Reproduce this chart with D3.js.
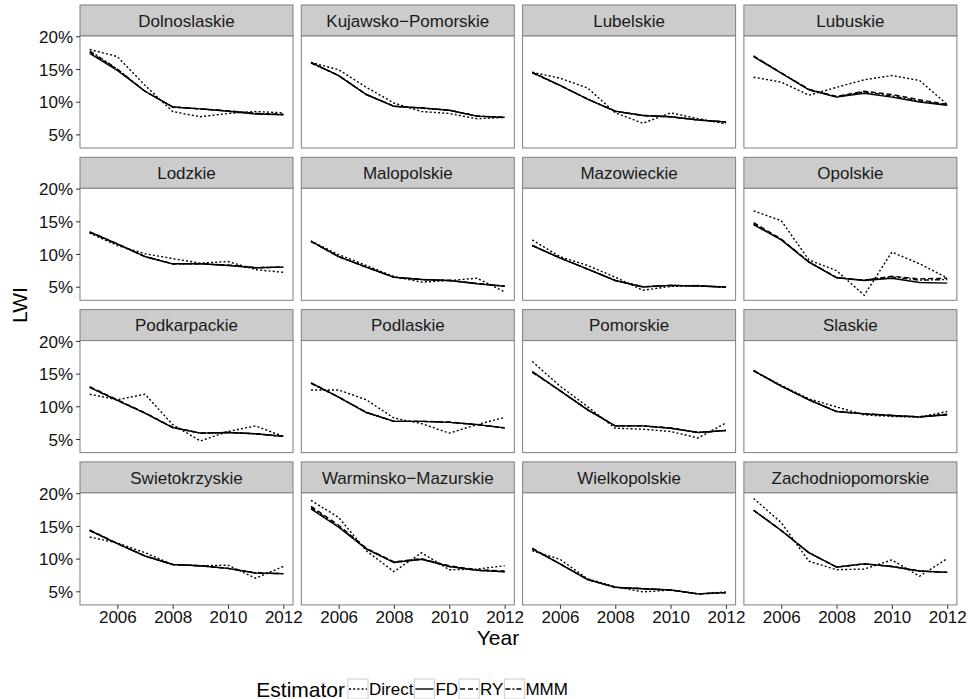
<!DOCTYPE html>
<html><head><meta charset="utf-8">
<script src="https://cdn.jsdelivr.net/npm/d3@7"></script>
<style>body{margin:0;background:#fff;} svg{display:block;}</style>
</head><body>
<svg id="chart" width="974" height="699"></svg>
<script>
const years = [2005,2006,2007,2008,2009,2010,2011,2012];
const regions = ["Dolnoslaskie","Kujawsko\u2212Pomorskie","Lubelskie","Lubuskie",
  "Lodzkie","Malopolskie","Mazowieckie","Opolskie",
  "Podkarpackie","Podlaskie","Pomorskie","Slaskie",
  "Swietokrzyskie","Warminsko\u2212Mazurskie","Wielkopolskie","Zachodniopomorskie"];
const estimators = ["Direct","FD","RY","MMM"];
const yTicks = [5,10,15,20];
const xTicks = [2006,2008,2010,2012];

// values in percent, one row per region, in years order
const direct = [
  [18.0,16.9,12.5,8.5,7.7,8.2,8.5,8.3],
  [16.0,14.9,12.2,9.8,8.5,8.2,7.4,7.6],
  [14.5,13.6,12.1,8.3,6.7,8.3,7.4,6.6],
  [13.75,13.0,11.0,12.2,13.35,14.0,13.25,9.6],
  [13.2,11.3,10.05,9.3,8.6,8.85,7.6,7.2],
  [12.0,9.9,8.25,6.55,5.7,5.95,6.3,4.2],
  [12.15,9.6,8.25,6.45,4.45,5.05,5.2,4.9],
  [16.6,15.1,9.1,7.45,3.7,10.3,8.5,6.35],
  [11.85,11.0,11.85,7.2,4.7,6.15,7.0,5.4],
  [12.5,12.5,11.0,8.2,7.35,5.9,7.2,8.3],
  [16.85,13.1,9.95,6.65,6.5,6.15,5.15,7.45],
  [15.45,13.2,11.15,9.9,8.7,8.45,8.35,9.2],
  [13.3,12.4,10.9,9.1,8.9,9.0,7.0,8.8],
  [18.9,16.3,11.2,8.0,10.9,8.3,8.4,8.9],
  [11.2,9.9,6.9,5.7,4.9,5.2,4.6,4.9],
  [19.2,15.5,9.6,8.3,8.4,9.8,7.3,10.0]
];
const fd = [
  [17.4,14.8,11.6,9.2,8.9,8.55,8.1,8.0],
  [16.0,14.0,11.1,9.3,9.05,8.7,7.8,7.6],
  [14.5,12.5,10.4,8.55,7.9,7.7,7.2,6.9],
  [16.9,14.35,11.8,10.7,11.3,10.7,9.95,9.45],
  [13.4,11.55,9.6,8.5,8.5,8.25,7.9,8.0],
  [11.95,9.6,8.0,6.45,6.1,5.95,5.45,5.05],
  [11.3,9.4,7.7,5.95,4.95,5.2,5.1,4.95],
  [14.5,12.15,8.75,6.35,5.95,6.3,5.65,5.55],
  [12.9,10.9,8.95,6.75,5.9,6.0,5.8,5.4],
  [13.6,11.4,9.05,7.7,7.7,7.55,7.2,6.7],
  [15.3,12.4,9.45,7.0,7.0,6.65,6.0,6.3],
  [15.45,13.1,11.0,9.2,8.85,8.6,8.35,8.7],
  [14.3,12.3,10.4,9.1,8.9,8.5,7.8,7.7],
  [17.6,14.8,11.5,9.4,9.9,8.8,8.2,8.0],
  [11.5,9.2,6.8,5.6,5.4,5.2,4.6,4.8],
  [17.4,14.3,10.9,8.7,9.2,8.8,8.1,7.9]
];
const ry = [
  [17.6,14.9,11.6,9.2,8.9,8.6,8.2,8.1],
  [16.0,14.0,11.1,9.3,9.05,8.7,7.8,7.6],
  [14.5,12.5,10.4,8.55,7.9,7.7,7.2,6.9],
  [17.0,14.4,11.9,10.8,11.6,11.1,10.3,9.6],
  [13.4,11.55,9.6,8.5,8.5,8.3,7.9,8.0],
  [11.95,9.6,8.0,6.45,6.1,5.95,5.5,5.1],
  [11.3,9.4,7.7,5.95,5.0,5.2,5.1,4.95],
  [14.8,12.3,8.8,6.4,6.0,6.6,6.2,6.3],
  [13.0,11.0,9.0,6.8,5.9,6.0,5.8,5.4],
  [13.6,11.4,9.1,7.7,7.7,7.6,7.2,6.7],
  [15.3,12.4,9.5,7.0,7.0,6.7,6.0,6.3],
  [15.5,13.1,11.0,9.2,8.85,8.6,8.4,8.8],
  [14.4,12.3,10.4,9.1,8.9,8.5,7.8,7.7],
  [18.0,15.1,11.6,9.5,10.0,8.9,8.3,8.1],
  [11.6,9.2,6.8,5.6,5.4,5.2,4.6,4.8],
  [17.4,14.3,10.9,8.7,9.2,8.8,8.1,7.9]
];
const mmm = [
  [17.8,15.0,11.6,9.2,8.9,8.6,8.2,8.0],
  [15.9,14.0,11.1,9.3,9.0,8.7,7.8,7.6],
  [14.4,12.5,10.4,8.5,7.9,7.7,7.2,6.9],
  [16.95,14.4,11.85,10.75,11.5,10.9,10.1,9.5],
  [13.3,11.5,9.6,8.5,8.5,8.3,7.9,8.0],
  [11.9,9.6,8.0,6.45,6.1,5.95,5.5,5.1],
  [11.3,9.4,7.7,5.95,5.0,5.2,5.1,4.95],
  [14.6,12.2,8.8,6.4,6.0,6.5,6.0,6.1],
  [12.9,10.9,8.95,6.75,5.9,6.0,5.8,5.4],
  [13.5,11.4,9.05,7.7,7.7,7.55,7.2,6.7],
  [15.2,12.4,9.45,7.0,7.0,6.65,6.0,6.3],
  [15.4,13.1,11.0,9.2,8.85,8.6,8.4,8.7],
  [14.3,12.3,10.4,9.1,8.9,8.5,7.8,7.7],
  [17.8,14.9,11.5,9.4,9.9,8.8,8.2,8.0],
  [11.5,9.2,6.8,5.6,5.4,5.2,4.6,4.8],
  [17.4,14.3,10.9,8.7,9.2,8.8,8.1,7.9]
];
const seriesValues = {Direct: direct, FD: fd, RY: ry, MMM: mmm};

const dashes = {Direct: "2,2.2", FD: null, RY: "5,3", MMM: "5,2,2,2"};
const FONT = "'Liberation Sans', Arial, Helvetica, sans-serif";

const svg = d3.select("#chart");
const left = 80, panelW = 213, colStep = 221.3;
const top0 = 5, rowStep = 152.3, stripH = 31, plotH = 112;

const x = d3.scaleLinear().domain([2004.65, 2012.35]).range([0, panelW]);
const y = d3.scaleLinear().domain([2.92, 20.05]).range([plotH, 0]);
const line = d3.line().x((d, i) => x(years[i])).y(d => y(d));

regions.forEach((name, k) => {
  const c = k % 4, r = Math.floor(k / 4);
  const gx = left + c * colStep, gy = top0 + r * rowStep;
  const g = svg.append("g").attr("transform", `translate(${gx},${gy})`);
  g.append("rect").attr("x", 0).attr("y", 0).attr("width", panelW).attr("height", stripH)
    .attr("fill", "#cccccc").attr("stroke", "#7f7f7f").attr("stroke-width", 1);
  g.append("text").attr("x", panelW / 2).attr("y", stripH / 2 + 6.2)
    .attr("text-anchor", "middle").attr("font-family", FONT).attr("font-size", 17)
    .attr("fill", "#1a1a1a").text(name);
  const p = g.append("g").attr("transform", `translate(0,${stripH})`);
  p.append("rect").attr("width", panelW).attr("height", plotH).attr("fill", "#fff");
  const clipId = "clip" + k;
  p.append("clipPath").attr("id", clipId).append("rect").attr("width", panelW).attr("height", plotH);
  const lines = p.append("g").attr("clip-path", `url(#${clipId})`);
  ["Direct","MMM","RY","FD"].forEach(est => {
    lines.append("path").datum(seriesValues[est][k]).attr("d", line)
      .attr("fill", "none").attr("stroke", "#000").attr("stroke-width", 1.4)
      .attr("stroke-dasharray", dashes[est]);
  });
  p.append("rect").attr("width", panelW).attr("height", plotH)
    .attr("fill", "none").attr("stroke", "#7f7f7f").attr("stroke-width", 1);
  if (c === 0) {
    const ya = p.append("g").call(d3.axisLeft(y).tickValues(yTicks).tickSize(4).tickPadding(3)
      .tickFormat(d => d + "%"));
    ya.select(".domain").remove();
    ya.selectAll("line").attr("stroke", "#333");
    ya.selectAll("text").attr("font-family", FONT).attr("font-size", 17).attr("fill", "#111").attr("dy", "0.36em");
  }
  if (r === 3) {
    const xa = p.append("g").attr("transform", `translate(0,${plotH})`)
      .call(d3.axisBottom(x).tickValues(xTicks).tickSize(4).tickPadding(2).tickFormat(d3.format("d")));
    xa.select(".domain").remove();
    xa.selectAll("line").attr("stroke", "#333");
    xa.selectAll("text").attr("font-family", FONT).attr("font-size", 17).attr("fill", "#111");
  }
});

// axis titles
svg.append("text").attr("x", 498).attr("y", 645)
  .attr("text-anchor", "middle").attr("font-family", FONT).attr("font-size", 21).text("Year");
svg.append("text").attr("transform", `translate(27,305) rotate(-90)`)
  .attr("text-anchor", "middle").attr("font-family", FONT).attr("font-size", 21).text("LWI");

// legend
const lg = svg.append("g").attr("transform", "translate(0,689)");
lg.append("text").attr("x", 345).attr("y", 7.5).attr("text-anchor", "end")
  .attr("font-family", FONT).attr("font-size", 21).text("Estimator");
let lx = 348;
estimators.forEach(est => {
  const key = lg.append("g").attr("transform", `translate(${lx},-10)`);
  key.append("rect").attr("width", 20).attr("height", 20).attr("fill", "#fff").attr("stroke", "#cccccc");
  key.append("line").attr("x1", 1).attr("x2", 19).attr("y1", 10).attr("y2", 10)
    .attr("stroke", "#000").attr("stroke-width", 1.4).attr("stroke-dasharray", dashes[est]);
  const t = lg.append("text").attr("x", lx + 21).attr("y", 6).attr("font-family", FONT)
    .attr("font-size", 17).text(est);
  lx += 21 + t.node().getComputedTextLength() + 1;
});
</script>
</body></html>
